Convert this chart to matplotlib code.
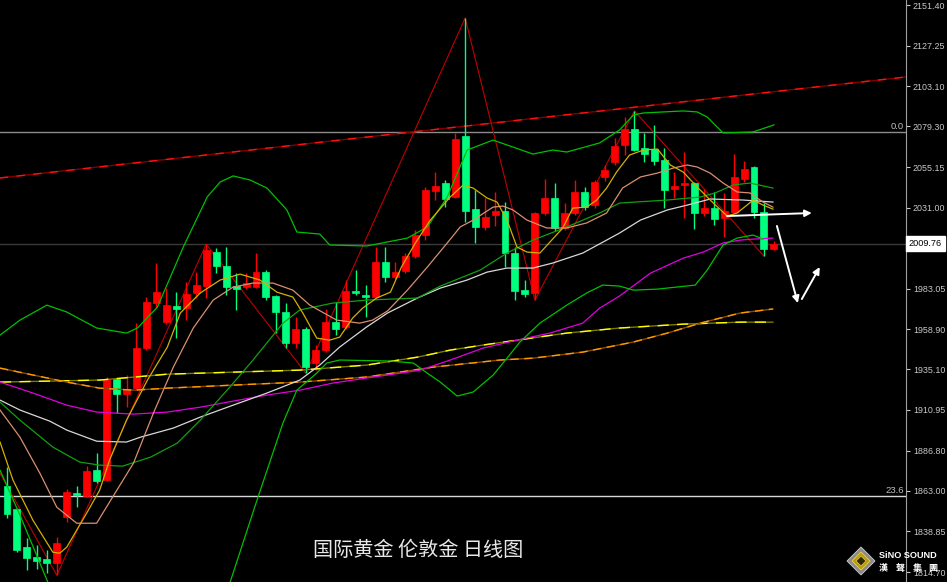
import numpy as np
import matplotlib
matplotlib.use('Agg')
import matplotlib.pyplot as plt
from matplotlib.patches import Polygon
from matplotlib.transforms import blended_transform_factory

# ---- daily candles (red = up, green = down) ----
opens = [1865.7, 1852.1, 1829.5, 1823.5, 1822.3, 1820.0, 1847.3, 1861.6, 1859.8, 1875.2,
         1869.3, 1929.3, 1920.4, 1923.9, 1947.7, 1974.4, 1963.1, 1972.6, 1971.4, 1980.4,
         1984.5, 2004.7, 1996.4, 1984.5, 1983.9, 1983.9, 1992.8, 1978.6, 1969.1, 1950.6,
         1959.0, 1938.8, 1946.5, 1963.1, 1960.2, 1981.5, 1979.2, 1978.0, 1998.8, 1989.9,
         1993.4, 2002.3, 2014.8, 2040.9, 2045.7, 2037.4, 2073.6, 2030.2, 2019.6, 2026.7,
         2029.1, 2004.1, 1982.1, 1980.4, 2027.9, 2036.8, 2019.0, 2027.9, 2040.4, 2032.6,
         2049.3, 2058.2, 2068.3, 2077.8, 2066.5, 2065.9, 2059.4, 2042.1, 2044.5, 2045.7,
         2027.9, 2030.8, 2024.9, 2028.5, 2048.1, 2055.2, 2028.5, 2006.5]
highs = [1877.0, 1852.5, 1834.8, 1830.7, 1827.7, 1835.4, 1863.9, 1865.7, 1877.6, 1885.3,
         1930.5, 1929.8, 1931.7, 1962.5, 1978.0, 1998.2, 1983.3, 1980.9, 1986.9, 1992.8,
         2009.5, 2007.1, 2007.7, 1992.2, 1992.2, 2004.1, 1994.0, 1979.0, 1974.4, 1966.1,
         1960.2, 1949.5, 1970.8, 1975.0, 1988.1, 1994.0, 1985.1, 2007.7, 2007.7, 1998.8,
         2004.1, 2017.8, 2043.3, 2052.2, 2047.5, 2075.4, 2143.7, 2041.5, 2036.8, 2040.4,
         2034.4, 2007.7, 1988.1, 2028.5, 2048.1, 2045.7, 2033.8, 2047.5, 2043.3, 2047.5,
         2056.4, 2072.4, 2084.9, 2088.5, 2075.4, 2080.1, 2066.5, 2052.2, 2064.1, 2046.3,
         2042.1, 2040.4, 2039.8, 2062.9, 2058.8, 2055.8, 2033.8, 2011.0]
lows = [1846.7, 1826.5, 1815.8, 1816.4, 1814.0, 1812.8, 1844.3, 1853.2, 1859.2, 1867.5,
        1868.7, 1909.1, 1912.6, 1922.7, 1946.5, 1971.4, 1961.9, 1953.6, 1964.3, 1977.4,
        1977.4, 1992.2, 1979.2, 1970.3, 1982.7, 1983.5, 1976.2, 1956.6, 1947.7, 1947.7,
        1932.8, 1934.6, 1945.3, 1955.4, 1959.0, 1979.2, 1966.1, 1977.4, 1986.9, 1988.7,
        1992.2, 2001.1, 2011.8, 2035.6, 2031.4, 2036.8, 2022.5, 2010.1, 2017.8, 2020.2,
        1995.8, 1976.2, 1978.0, 1976.2, 2026.7, 2017.2, 2017.8, 2026.7, 2029.7, 2030.8,
        2046.9, 2056.4, 2062.3, 2065.0, 2058.2, 2056.4, 2030.8, 2036.8, 2024.9, 2018.4,
        2026.1, 2020.7, 2013.6, 2027.9, 2046.3, 2024.9, 2002.3, 2005.9]
closes = [1849.1, 1827.7, 1822.9, 1821.2, 1820.0, 1831.9, 1862.2, 1860.4, 1874.6, 1868.7,
          1929.3, 1920.4, 1923.3, 1947.7, 1975.0, 1980.9, 1973.2, 1970.8, 1979.8, 1985.1,
          2005.9, 1996.4, 1983.9, 1982.7, 1986.3, 1992.8, 1978.0, 1969.1, 1950.6, 1959.0,
          1936.4, 1946.5, 1963.1, 1959.0, 1981.5, 1980.4, 1978.0, 1998.8, 1989.9, 1992.8,
          2002.3, 2014.8, 2041.5, 2043.9, 2036.2, 2071.8, 2029.1, 2019.6, 2025.5, 2029.1,
          2004.1, 1981.5, 1979.8, 2027.9, 2036.8, 2019.0, 2027.9, 2040.4, 2031.4, 2046.3,
          2053.4, 2067.7, 2077.8, 2065.3, 2062.9, 2058.8, 2041.5, 2043.9, 2045.7, 2027.9,
          2030.8, 2024.3, 2029.1, 2049.3, 2054.0, 2028.5, 2006.5, 2009.76]

# ---- indicator lines (x = candle index, y = price) ----
bb_up_x = [-0.7, 1.3, 4.0, 6.0, 9.0, 12.0, 13.1, 15.1, 17.7, 20.1, 21.4, 22.7, 24.4, 26.1, 28.1,
           29.1, 31.4, 32.4, 36.1, 40.2, 42.2, 44.2, 46.2, 48.8, 52.8, 54.8, 56.2, 59.5, 61.5,
           62.9, 63.9, 67.9, 69.3, 70.3, 71.9, 74.9, 77.0]
bb_up_y = [1955.4, 1964.3, 1973.2, 1969.1, 1959.6, 1956.6, 1959.6, 1972.0, 2007.7, 2037.4, 2046.3,
           2049.9, 2047.5, 2042.7, 2029.7, 2016.6, 2015.4, 2008.9, 2008.3, 2013.0, 2019.6, 2037.4,
           2065.3, 2071.2, 2062.9, 2065.3, 2064.1, 2069.5, 2077.2, 2086.1, 2087.3, 2088.5, 2087.9,
           2084.9, 2075.4, 2076.0, 2080.2]
bb_mid_x = [-0.7, 1.3, 4.6, 7.3, 9.3, 11.6, 14.4, 17.1, 19.4, 22.1, 24.7, 27.7, 29.4, 32.7, 36.1,
            41.2, 43.5, 47.5, 50.2, 52.8, 56.2, 59.5, 61.5, 66.3, 69.6, 71.1, 72.9, 74.6, 76.9]
bb_mid_y = [1915.6, 1904.9, 1888.9, 1880.0, 1878.2, 1877.6, 1882.9, 1891.3, 1904.9, 1922.7, 1940.6,
            1962.5, 1970.3, 1974.4, 1976.2, 1977.4, 1984.5, 1994.0, 2004.1, 2011.8, 2019.6, 2027.9,
            2033.8, 2035.6, 2037.4, 2039.8, 2044.5, 2045.7, 2042.7]
bb_dn_x = [-0.7, 1.3, 4.1, np.nan, 22.4, 25.1, 27.7, 29.1, 31.1, 32.1, 33.4, 38.5, 40.8, 42.2, 43.5,
           45.2, 46.8, 48.8, 50.2, 51.5, 53.5, 56.2, 58.2, 59.8, 61.5, 62.9, 65.3, 69.1, 70.3,
           71.9, 73.3, 74.9, 75.9]
bb_dn_y = [1875.2, 1848.5, 1808.7, np.nan, 1808.7, 1857.4, 1903.1, 1922.7, 1932.8, 1938.8, 1940.6,
           1940.0, 1938.8, 1932.8, 1927.5, 1919.2, 1921.6, 1931.6, 1941.7, 1951.3, 1962.5, 1973.2,
           1980.4, 1985.1, 1984.5, 1982.1, 1982.7, 1985.1, 1994.0, 2008.9, 2013.0, 2014.8, 2012.4]
ma_w_x = [-0.7, 1.3, 4.3, 6.0, 9.0, 12.0, 13.4, 16.7, 19.4, 22.7, 26.1, 29.4, 31.4, 33.4, 36.1,
          38.2, 41.2, 43.5, 46.2, 48.2, 50.2, 52.8, 54.8, 57.8, 60.2, 61.5, 63.6, 66.3, 68.3,
          70.6, 73.9, 76.9]
ma_w_y = [1916.8, 1910.9, 1904.3, 1899.0, 1892.4, 1891.9, 1894.8, 1900.2, 1906.7, 1913.8, 1921.0,
          1928.7, 1937.6, 1948.3, 1960.2, 1968.5, 1977.4, 1983.3, 1988.1, 1992.8, 1995.2, 1995.2,
          1998.2, 2004.1, 2011.8, 2016.0, 2023.7, 2029.7, 2032.6, 2036.2, 2035.6, 2034.4]
ma_y_x = [-0.7, 0.6, 2.6, 4.6, 5.3, 6.0, 8.0, 9.3, 10.3, 12.0, 14.1, 16.1, 17.4, 19.4, 21.4, 23.4,
          25.4, 27.1, 28.7, 29.7, 31.1, 32.4, 33.4, 34.7, 35.7, 37.1, 38.5, 39.6, 41.0, 42.5, 44.5,
          45.8, 46.8, 48.2, 49.2, 50.2, 51.2, 52.2, 53.5, 55.8, 56.8, 58.2, 59.2, 60.2, 61.2,
          62.5, 63.9, 65.3, 66.6, 67.9, 69.3, 70.6, 72.3, 73.3, 74.3, 74.9, 75.9, 76.9]
ma_y_y = [1891.9, 1869.3, 1845.5, 1826.5, 1825.9, 1829.5, 1849.7, 1863.3, 1881.2, 1904.9, 1928.7,
          1948.3, 1968.5, 1980.4, 1988.1, 1991.6, 1988.1, 1980.9, 1978.0, 1968.5, 1953.6, 1952.4,
          1954.2, 1965.5, 1971.4, 1977.4, 1980.9, 1995.8, 2010.1, 2023.7, 2037.4, 2044.5, 2042.7,
          2036.8, 2034.4, 2023.7, 2007.7, 2004.7, 2004.1, 2019.0, 2030.8, 2031.4, 2035.6, 2042.7,
          2052.2, 2062.3, 2065.3, 2065.9, 2056.4, 2052.2, 2043.3, 2035.6, 2026.1, 2027.9, 2032.6,
          2035.6, 2032.6, 2030.2]
ma_t_x = [-0.7, 1.3, 3.3, 5.0, 7.0, 9.0, 10.6, 12.7, 14.7, 16.7, 18.7, 20.7, 22.7, 24.7, 26.7,
          28.7, 30.4, 33.1, 35.4, 36.7, 38.2, 40.2, 42.2, 44.2, 45.5, 46.8, 48.8, 49.8, 50.8,
          52.2, 54.2, 56.2, 58.2, 60.2, 61.8, 63.6, 65.3, 66.9, 68.3, 69.3, 70.6, 71.9, 73.3,
          74.6, 75.9, 76.9]
ma_t_y = [1910.9, 1894.8, 1873.4, 1853.2, 1843.7, 1843.7, 1859.2, 1879.4, 1909.1, 1936.4, 1959.6,
          1976.2, 1983.9, 1986.3, 1986.3, 1982.1, 1973.2, 1964.3, 1962.5, 1964.3, 1969.7, 1982.1,
          1995.8, 2010.1, 2019.6, 2023.7, 2031.4, 2032.0, 2029.7, 2023.7, 2019.0, 2019.0, 2022.0,
          2027.9, 2042.7, 2049.3, 2051.6, 2054.6, 2056.4, 2055.2, 2051.6, 2045.7, 2040.4, 2039.8,
          2034.4, 2031.4]
ma_m_x = [-0.7, 2.6, 6.0, 9.0, 12.7, 16.1, 19.4, 22.7, 26.1, 29.4, 32.7, 36.1, 39.5, 41.5, 44.5,
          47.8, 51.2, 54.5, 57.8, 59.5, 61.5, 64.6, 67.9, 69.9, 71.9, 73.6, 74.9, 76.9]
ma_m_y = [1927.5, 1921.0, 1913.8, 1909.7, 1908.5, 1909.7, 1912.6, 1916.2, 1919.8, 1922.7, 1926.9,
          1929.9, 1932.8, 1934.6, 1940.6, 1947.7, 1952.4, 1956.6, 1962.5, 1971.4, 1978.6, 1992.2,
          2001.1, 2004.7, 2010.1, 2011.8, 2012.4, 2013.0]
ma_l1_x = [-0.7, 9.3, 16.1, 22.7, 29.4, 36.1, 41.2, 44.5, 47.8, 51.2, 56.2, 61.5, 67.9, 73.6, 76.9]
ma_l1_y = [1927.5, 1928.7, 1932.2, 1933.4, 1934.6, 1937.6, 1942.3, 1946.5, 1949.5, 1952.4, 1956.6,
           1959.6, 1961.9, 1963.1, 1963.1]
ma_l2_x = [-0.7, 6.0, 9.3, 12.7, 16.1, 22.7, 29.4, 36.1, 42.8, 49.5, 52.8, 57.8, 62.9, 66.3,
           69.6, 73.6, 76.9]
ma_l2_y = [1935.8, 1927.5, 1923.9, 1922.7, 1923.9, 1925.7, 1927.5, 1930.5, 1936.4, 1940.6, 1941.7,
           1945.3, 1951.3, 1956.6, 1962.5, 1968.5, 1970.9]

zz_x = [-0.7, 5, 20, 30, 46, 53, 63, 76]
zz_y = [1873.4, 1812.8, 2009.5, 1932.8, 2143.7, 1976.2, 2088.5, 2002.3]
trend_x = [-0.7, 90.3]
trend_y = [2048.7, 2108.7]

fib_levels = [2076.0, 1859.8]
fib_labels = ['0.0', '23.6']
last_price = 2009.76

arrows = [((72.3, 2026.1), (80.8, 2027.9)),
          ((77.3, 2020.2), (79.4, 1974.4)),
          ((79.8, 1976.8), (81.6, 1995.8))]

yticks = [2151.40, 2127.25, 2103.10, 2079.30, 2055.15, 2031.00, 2007.20, 1983.05,
          1958.90, 1935.10, 1910.95, 1886.80, 1863.00, 1838.85, 1814.70]

# ---------------- figure ----------------
fig = plt.figure(figsize=(9.47, 5.82), dpi=100, facecolor='black')
ax = fig.add_axes([0, 0, 906 / 947, 1])
ax.set_facecolor('black')
ax.set_xlim(-0.703, 90.26)
ax.set_ylim(1808.8, 2154.37)

for s in ['top', 'left', 'bottom']:
    ax.spines[s].set_visible(False)
ax.spines['right'].set_color('#a0a0a0')
ax.set_xticks([])
ax.yaxis.tick_right()
ax.set_yticks(yticks)
ax.set_yticklabels(['%.2f' % v for v in yticks], family='Liberation Sans')
ax.tick_params(axis='y', colors='#c8c8c8', labelsize=6.4, length=3, width=0.8, pad=2)

# horizontal levels
ax.axhline(fib_levels[0], color='#8c8c8c', lw=1.0, zorder=1)
ax.axhline(fib_levels[1], color='#d8d8d8', lw=1.0, zorder=1)
ax.axhline(last_price, color='#3a3a3a', lw=1.0, zorder=1)
for lv, lb in zip(fib_levels, fib_labels):
    ax.text(0.998, lv + 0.8, lb, transform=blended_transform_factory(ax.transAxes, ax.transData),
            ha='right', va='bottom', color='#c0c0c0', fontsize=6.8, family='Liberation Sans')

# trend line and zigzag
ax.plot(trend_x, trend_y, color='#800000', lw=1.0, zorder=2)
ax.plot(trend_x, trend_y, color='#ff1010', lw=1.0, dashes=(6, 6), zorder=2)
ax.plot(zz_x, zz_y, color='#c00000', lw=0.8, zorder=2)

# candles
idx = np.arange(len(opens))
o = np.array(opens); c = np.array(closes)
up = c >= o
col = np.where(up, '#ff0000', '#00ff7f')
ax.vlines(idx, lows, highs, colors=col, lw=1.0, zorder=3)
body_lo = np.minimum(o, c)
body_h = np.maximum(np.abs(c - o), 0.9)
ax.bar(idx, body_h, bottom=body_lo, width=0.7, color=col, edgecolor=col, lw=0.5, zorder=3)

# indicator lines
ax.plot(ma_l1_x, ma_l1_y, color='#7a7a00', lw=1.0, zorder=4)
ax.plot(ma_l1_x, ma_l1_y, color='#ffff00', lw=1.0, dashes=(8, 6), zorder=4)
ax.plot(ma_l2_x, ma_l2_y, color='#8a4a00', lw=1.0, zorder=4)
ax.plot(ma_l2_x, ma_l2_y, color='#ff9900', lw=1.0, dashes=(6, 4), zorder=4)
ax.plot(ma_m_x, ma_m_y, color='#e000e0', lw=0.9, zorder=4)
ax.plot(ma_w_x, ma_w_y, color='#d8d8d8', lw=0.9, zorder=4)
ax.plot(bb_mid_x, bb_mid_y, color='#10a010', lw=0.9, zorder=4)
ax.plot(bb_up_x, bb_up_y, color='#00c000', lw=0.9, zorder=4)
ax.plot(bb_dn_x, bb_dn_y, color='#00c000', lw=0.9, zorder=4)
ax.plot(ma_t_x, ma_t_y, color='#d89070', lw=0.9, zorder=4)
ax.plot(ma_y_x, ma_y_y, color='#d4b000', lw=0.9, zorder=4)

for start, end in arrows:
    ax.annotate('', xy=end, xytext=start, zorder=6,
                arrowprops=dict(arrowstyle='-|>', color='white', lw=1.4, mutation_scale=10,
                                shrinkA=0, shrinkB=0))

# last price tag (covers the 2007.20 label as in the terminal)
ax.text(1.003, last_price, '2009.76', transform=blended_transform_factory(ax.transAxes, ax.transData),
        ha='left', va='center', color='black', fontsize=6.6, family='Liberation Sans', clip_on=False,
        bbox=dict(boxstyle='square,pad=0.3', fc='white', ec='white'), zorder=10)

# overlay in pixel space for caption and logo
ov = fig.add_axes([0, 0, 1, 1], facecolor='none')
ov.set_xlim(0, 947)
ov.set_ylim(582, 0)
ov.axis('off')
ov.text(418, 550, '国际黄金 伦敦金 日线图', ha='center', va='center', fontsize=14.5,
        color='#e8e8e8', family=['Noto Sans CJK SC', 'DejaVu Sans'])

cx, cy = 861, 561
ov.add_patch(Polygon([(cx, cy - 14), (cx + 14, cy), (cx, cy + 14), (cx - 14, cy)], closed=True,
                     fc='#8a8a8a', ec='#d0d0d0', lw=0.6))
ov.add_patch(Polygon([(cx, cy - 9), (cx + 9, cy), (cx, cy + 9), (cx - 9, cy)], closed=True,
                     fc='#b89a10', ec='#f0d040', lw=0.6))
ov.add_patch(Polygon([(cx, cy - 5), (cx + 5, cy), (cx, cy + 5), (cx - 5, cy)], closed=True,
                     fc='#2a2a08', ec='#e0c030', lw=0.6))
ov.text(879, 555, 'SiNO SOUND', ha='left', va='center', fontsize=6.6, fontweight='bold',
        color='white', family='Liberation Sans')
for ch, xx in zip('漢聲集團', [883, 900, 917, 933]):
    ov.text(xx, 568, ch, ha='center', va='center', fontsize=6.5, fontweight='bold', color='white',
            family=['Noto Sans CJK TC', 'DejaVu Sans'])

fig.savefig('out.png', dpi=100, facecolor='black')
